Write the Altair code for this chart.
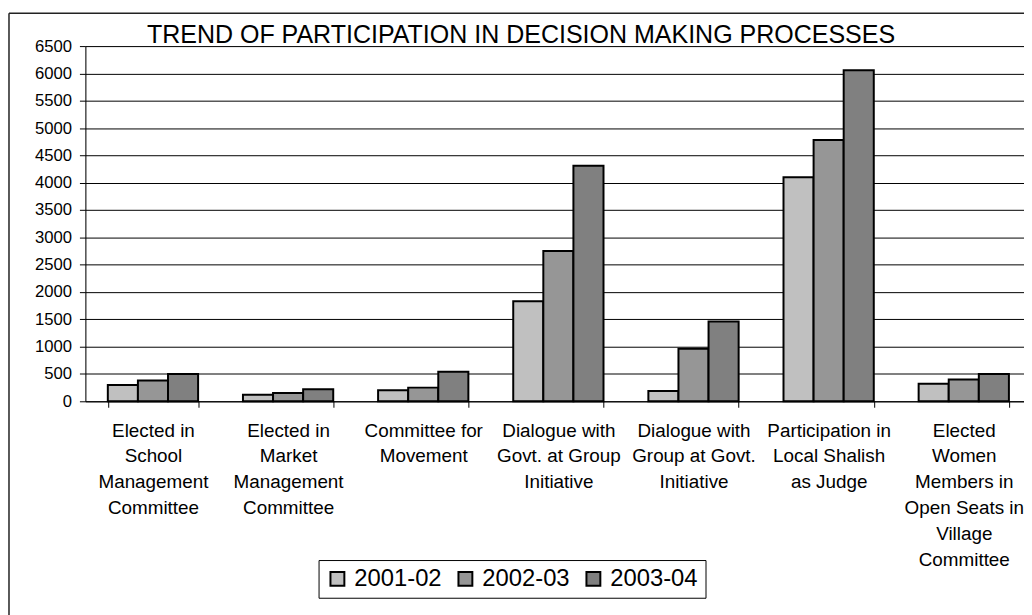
import altair as alt
import pandas as pd

categories = [
    "Elected in\nSchool\nManagement\nCommittee",
    "Elected in\nMarket\nManagement\nCommittee",
    "Committee for\nMovement",
    "Dialogue with\nGovt. at Group\nInitiative",
    "Dialogue with\nGroup at Govt.\nInitiative",
    "Participation in\nLocal Shalish\nas Judge",
    "Elected\nWomen\nMembers in\nOpen Seats in\nVillage\nCommittee",
]
years = ["2001-02", "2002-03", "2003-04"]
v2001 = [300, 120, 200, 1830, 190, 4100, 320]
v2002 = [380, 150, 250, 2750, 960, 4780, 400]
v2003 = [500, 220, 540, 4310, 1460, 6060, 500]
colors = ["#C0C0C0", "#969696", "#808080"]
y_ticks = list(range(0, 6501, 500))
title_text = "TREND OF PARTICIPATION IN DECISION MAKING PROCESSES"

rows = []
for yr, vals in zip(years, [v2001, v2002, v2003]):
    for c, v in zip(categories, vals):
        rows.append({"category": c, "year": yr, "value": v})
df = pd.DataFrame(rows)

FONT = "Liberation Sans"
W = 953.4
H = 358

bars = alt.Chart(df).mark_bar(stroke="black", strokeWidth=2).encode(
    x=alt.X(
        "category:N",
        sort=categories,
        title=None,
        scale=alt.Scale(paddingInner=0.332, paddingOuter=0.166),
        axis=alt.Axis(
            labelExpr="split(datum.label, '\\n')",
            labelAngle=0,
            labelFontSize=19,
            labelLineHeight=26,
            labelFont=FONT,
            labelColor="black",
            labelBaseline="top",
            labelPadding=14,
            labelLimit=300,
            labelOverlap=False,
            labelBound=False,
            tickBand="extent",
            tickSize=6,
            tickColor="black",
            domainColor="black",
            domainWidth=1,
            grid=False,
        ),
    ),
    xOffset=alt.XOffset("year:N", sort=years, scale=alt.Scale(paddingInner=0, paddingOuter=0)),
    y=alt.Y(
        "value:Q",
        title=None,
        scale=alt.Scale(domain=[0, 6500], nice=False),
        axis=alt.Axis(
            values=y_ticks,
            format="d",
            labelFontSize=16.8,
            labelFont=FONT,
            labelColor="black",
            labelPadding=8,
            tickSize=6,
            tickColor="black",
            domainColor="black",
            grid=True,
            gridColor="black",
            gridWidth=1,
        ),
    ),
    fill=alt.Fill(
        "year:N",
        sort=years,
        scale=alt.Scale(domain=years, range=colors),
        legend=alt.Legend(
            title=None,
            orient="none",
            legendX=235,
            legendY=518,
            direction="horizontal",
            symbolType="square",
            symbolSize=196,
            symbolStrokeColor="black",
            symbolStrokeWidth=2,
            labelFontSize=24,
            labelFont=FONT,
            labelColor="black",
            labelOffset=5,
            columnPadding=11,
            padding=7,
            strokeColor="black",
            fillColor="white",
        ),
    ),
)

frame_data = alt.Data(values=[{"k": 1}])
frame_left = alt.Chart(frame_data).mark_rule(color="#222", strokeWidth=1.5).encode(
    x=alt.value(-77), y=alt.value(-33), y2=alt.value(H + 220)
)
frame_top = alt.Chart(frame_data).mark_rule(color="#222", strokeWidth=1.5).encode(
    x=alt.value(-77), x2=alt.value(W + 20), y=alt.value(-33)
)
title_mark = alt.Chart(alt.Data(values=[{"t": title_text}])).mark_text(
    font=FONT, fontSize=25.2, color="black", align="left", baseline="alphabetic"
).encode(x=alt.value(62), y=alt.value(-3), text="t:N")

chart = alt.layer(bars, frame_left, frame_top, title_mark).properties(
    width=W,
    height=H,
    autosize=alt.AutoSizeParams(type="none"),
    padding={"left": 78, "top": 36, "right": -7.4, "bottom": 213},
).configure_view(stroke=None).configure(background="white")

chart.save("out.html", embed_options={"renderer": "svg", "actions": False})
